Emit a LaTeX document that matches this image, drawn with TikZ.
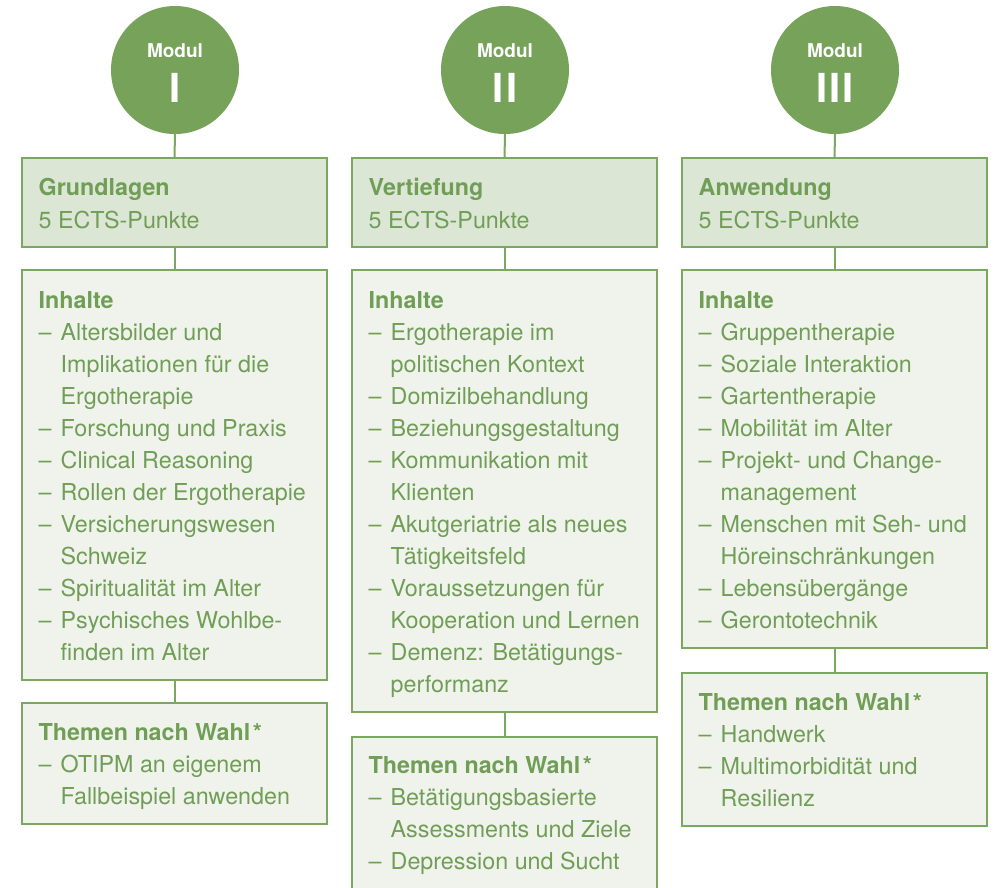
\documentclass[tikz,border=0pt]{standalone}
\usepackage{fontspec}
\setmainfont{TeX Gyre Heros}
\usetikzlibrary{calc}
\definecolor{modfill}{RGB}{118,162,90}
\definecolor{tgreen}{RGB}{112,158,86}
\definecolor{bgreen}{RGB}{122,168,98}
\definecolor{hfill}{RGB}{220,230,213}
\definecolor{cfill}{RGB}{240,243,236}
\newcommand\itm[1]{\par{\leftskip=22pt\noindent\hskip-22pt\makebox[22pt][l]{–}#1\par}}
\newcommand\boxtext[2]{\parbox[t]{295pt}{\fontsize{23.3}{#1}\selectfont\raggedright\hyphenpenalty=10000 #2}}
\begin{document}
\begin{tikzpicture}[x=1pt,y=-1pt,
  modc/.style={circle,fill=modfill,draw=none,minimum size=128pt,inner sep=0pt,outer sep=0pt},
  modt/.style={text=white,inner sep=0pt,font=\bfseries\fontsize{19}{22}\selectfont},
  numt/.style={text=white,inner sep=0pt,font=\bfseries\fontsize{40}{44}\selectfont},
  boxh/.style={rectangle,draw=bgreen,fill=hfill,line width=2pt,minimum width=305pt,inner sep=0pt,outer sep=0pt,anchor=north west},
  boxc/.style={rectangle,draw=bgreen,fill=cfill,line width=2pt,minimum width=305pt,inner sep=0pt,outer sep=0pt,anchor=north west},
  conn/.style={draw=bgreen,line width=2pt},
  txt/.style={text=tgreen,inner sep=0pt,anchor=base west}]
\clip (0,0) rectangle (995,887);
\fill[white] (0,0) rectangle (995,887);

% ---------- Column I ----------
\node[modc] (c1) at (175,70) {};
\node[modt,anchor=base] (m1) at (175,57) {Modul};
\node[numt,anchor=base] (n1) at (175,102.5) {I};
\node[boxh,minimum height=89pt] (h1) at (22,158) {};
\node[boxc,minimum height=410pt] (i1) at (22,270) {};
\node[boxc,minimum height=121pt] (w1) at (22,703) {};
\draw[conn] (c1.south) -- (h1.north);
\draw[conn] (h1.south) -- (i1.north);
\draw[conn] (i1.south) -- (w1.north);
\node[txt] (th1) at ($(h1.north west)+(16.5,37)$) {\boxtext{33}{\textbf{Grundlagen}\par 5 ECTS-Punkte}};
\node[txt] (ti1) at ($(i1.north west)+(16.5,38.5)$) {\boxtext{32}{\textbf{Inhalte}
  \itm{Altersbilder und\\Implikationen für die\\Ergotherapie}
  \itm{Forschung und Praxis}
  \itm{Clinical Reasoning}
  \itm{Rollen der Ergotherapie}
  \itm{Versicherungswesen\\Schweiz}
  \itm{Spiritualität im Alter}
  \itm{Psychisches Wohlbe-\\finden im Alter}}};
\node[txt] (tw1) at ($(w1.north west)+(16.5,37)$) {\boxtext{32}{\textbf{Themen nach Wahl\kern2.5pt*}
  \itm{OTIPM an eigenem\\Fallbeispiel anwenden}}};

% ---------- Column II ----------
\node[modc] (c2) at (505,70) {};
\node[modt,anchor=base] (m2) at (505,57) {Modul};
\node[numt,anchor=base] (n2) at (505,102.5) {I\kern2pt I};
\node[boxh,minimum height=89pt] (h2) at (352,158) {};
\node[boxc,minimum height=442pt] (i2) at (352,270) {};
\node[boxc,minimum height=175pt] (w2) at (352,737) {};
\draw[conn] (c2.south) -- (h2.north);
\draw[conn] (h2.south) -- (i2.north);
\draw[conn] (i2.south) -- (w2.north);
\node[txt] (th2) at ($(h2.north west)+(16.5,37)$) {\boxtext{33}{\textbf{Vertiefung}\par 5 ECTS-Punkte}};
\node[txt] (ti2) at ($(i2.north west)+(16.5,38.5)$) {\boxtext{32}{\textbf{Inhalte}
  \itm{Ergotherapie im\\politischen Kontext}
  \itm{Domizilbehandlung}
  \itm{Beziehungsgestaltung}
  \itm{Kommunikation mit\\Klienten}
  \itm{Akutgeriatrie als neues\\Tätigkeitsfeld}
  \itm{Voraussetzungen für\\Kooperation und Lernen}
  \itm{Demenz: Betätigungs-\\performanz}}};
\node[txt] (tw2) at ($(w2.north west)+(16.5,36)$) {\boxtext{32}{\textbf{Themen nach Wahl\kern2.5pt*}
  \itm{Betätigungsbasierte\\Assessments und Ziele}
  \itm{Depression und Sucht}}};

% ---------- Column III ----------
\node[modc] (c3) at (835,70) {};
\node[modt,anchor=base] (m3) at (835,57) {Modul};
\node[numt,anchor=base] (n3) at (835,102.5) {I\kern2pt I\kern2pt I};
\node[boxh,minimum height=89pt] (h3) at (682,158) {};
\node[boxc,minimum height=378pt] (i3) at (682,270) {};
\node[boxc,minimum height=153pt] (w3) at (682,673) {};
\draw[conn] (c3.south) -- (h3.north);
\draw[conn] (h3.south) -- (i3.north);
\draw[conn] (i3.south) -- (w3.north);
\node[txt] (th3) at ($(h3.north west)+(16.5,37)$) {\boxtext{33}{\textbf{Anwendung}\par 5 ECTS-Punkte}};
\node[txt] (ti3) at ($(i3.north west)+(16.5,38.5)$) {\boxtext{32}{\textbf{Inhalte}
  \itm{Gruppentherapie}
  \itm{Soziale Interaktion}
  \itm{Gartentherapie}
  \itm{Mobilität im Alter}
  \itm{Projekt- und Change-\\management}
  \itm{Menschen mit Seh- und\\Höreinschränkungen}
  \itm{Lebensübergänge}
  \itm{Gerontotechnik}}};
\node[txt] (tw3) at ($(w3.north west)+(16.5,37)$) {\boxtext{32}{\textbf{Themen nach Wahl\kern2.5pt*}
  \itm{Handwerk}
  \itm{Multimorbidität und\\Resilienz}}};
\end{tikzpicture}
\end{document}
